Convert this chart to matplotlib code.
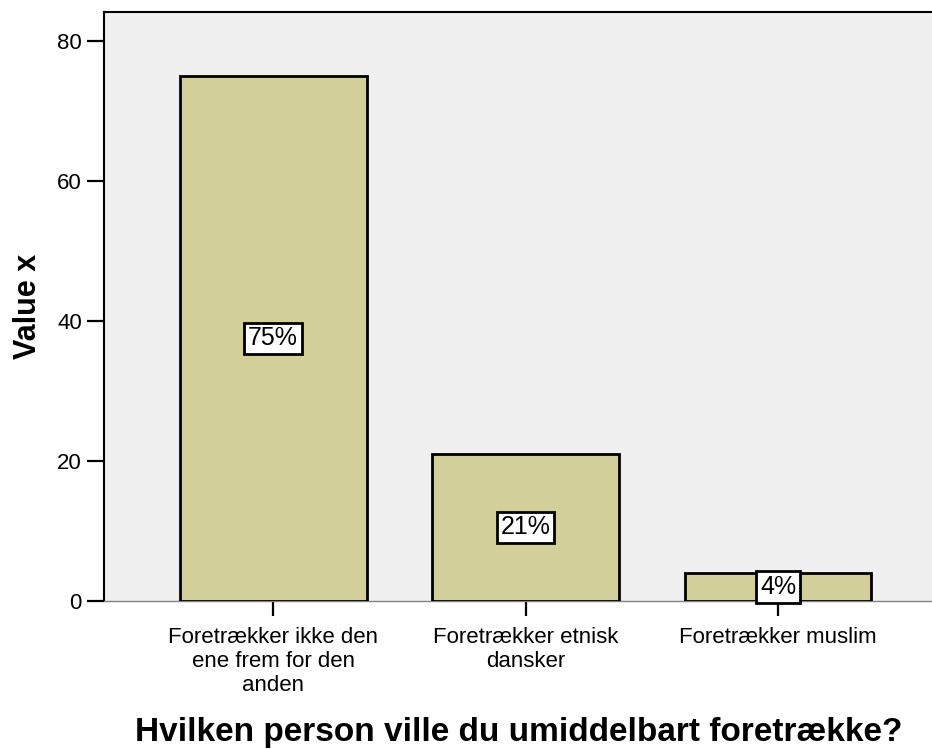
import matplotlib
matplotlib.use("Agg")
import matplotlib.pyplot as plt
import numpy as np

categories = ["Foretrækker ikke den\nene frem for den\nanden",
              "Foretrækker etnisk\ndansker",
              "Foretrækker muslim"]
values = [75, 21, 4]
labels = ["75%", "21%", "4%"]
yticks = [0, 20, 40, 60, 80]

plt.rcParams['font.family'] = ['Liberation Sans', 'DejaVu Sans']

fig = plt.figure(figsize=(9.32, 7.49), dpi=100)
ax = fig.add_axes([104/932, 1-601/749, 1-104/932, (601-12)/749])
ax.set_facecolor('#f0f0f0')

x = np.arange(len(values))
ax.bar(x, values, width=0.74, color='#d3cf9a', edgecolor='black', linewidth=2, zorder=3)

for xi, v, lab in zip(x, values, labels):
    ax.text(xi, v/2, lab, ha='center', va='center', fontsize=18, zorder=4,
            bbox=dict(boxstyle='square,pad=0.15', facecolor='white', edgecolor='black', linewidth=2))

ax.set_xlim(-0.67, 2.61)
ax.set_ylim(0, 84.14)
ax.set_yticks(yticks)
ax.set_xticks(x)
ax.set_xticklabels(categories, fontsize=16, linespacing=1.17)
ax.tick_params(axis='y', labelsize=16, length=12, width=1.6, pad=4)
ax.tick_params(axis='x', length=11, width=1.6, pad=8)

ax.spines['right'].set_visible(False)
ax.spines['bottom'].set_color('#808080')
ax.spines['bottom'].set_linewidth(1)
ax.spines['left'].set_linewidth(1.5)
ax.spines['top'].set_linewidth(1.5)

ax.set_ylabel("Value x", fontsize=22, fontweight='bold', labelpad=10)
fig.text(519/932, 1-741/749, "Hvilken person ville du umiddelbart foretrække?",
         fontsize=24, fontweight='bold', ha='center', va='baseline')

fig.savefig("out.png", dpi=100)
